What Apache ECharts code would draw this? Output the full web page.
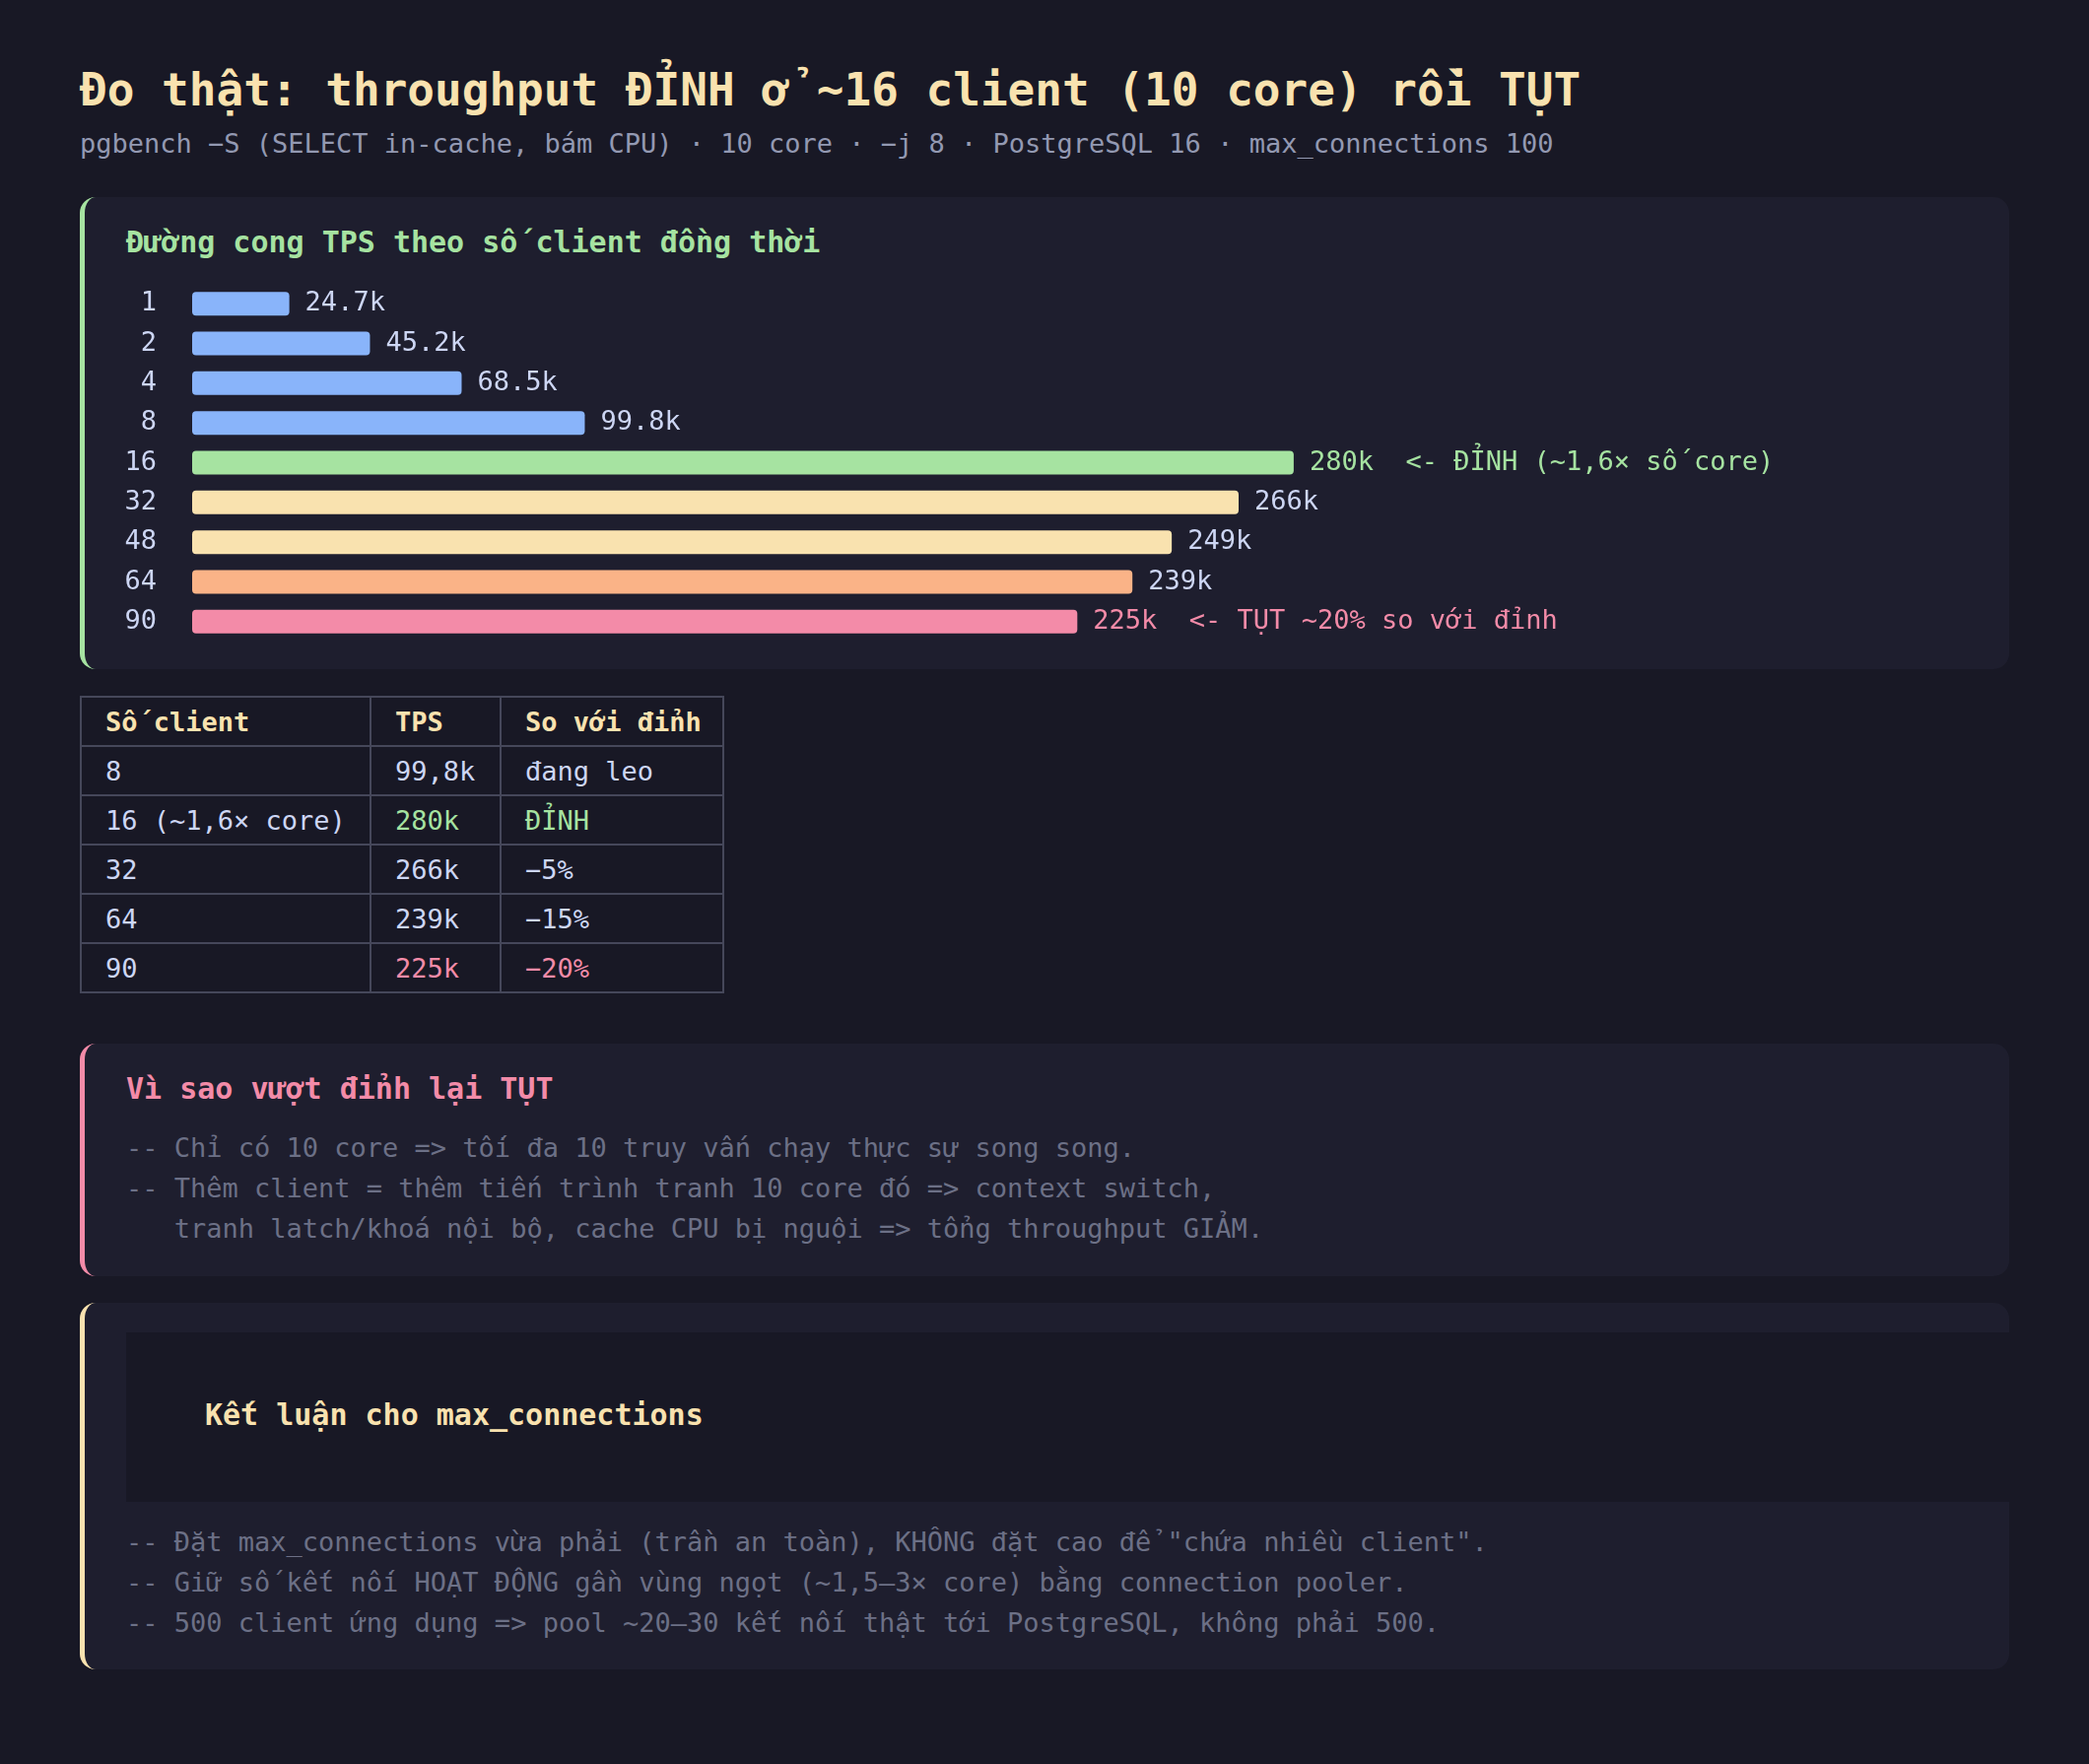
<!DOCTYPE html>
<html><head><meta charset="utf-8">
<script src="https://cdn.jsdelivr.net/npm/echarts@6/dist/echarts.min.js"></script>
<style>
body{margin:0;background:#181825;width:2120px;height:1790px;overflow:hidden;font-family:"DejaVu Sans Mono",monospace;color:#cdd6f4;position:relative}
.abs{position:absolute}
.title{left:81px;top:64px;font-size:46px;font-weight:bold;color:#f9e2af;white-space:nowrap}
.sub{left:81px;top:130px;font-size:27px;color:#9399b2;white-space:nowrap}
.panel{left:81px;width:1958px;background:#1e1e2e;border-radius:16px;box-sizing:border-box}
.h{font-size:30px;font-weight:bold;white-space:nowrap}
.ln{font-size:27px;color:#6c7086;white-space:pre;line-height:41px}
table{border-collapse:collapse;font-size:27px}
td{border:2px solid #45475a;height:50px;padding:0 0 0 24px;box-sizing:border-box}
</style></head><body>
<div class="abs title">Đo thật: throughput ĐỈNH ở ~16 client (10 core) rồi TỤT</div>
<div class="abs sub">pgbench −S (SELECT in-cache, bám CPU) · 10 core · −j 8 · PostgreSQL 16 · max_connections 100</div>
<div class="abs panel" style="top:200px;height:479px;border-left:5px solid #a6e3a1"></div>
<div class="abs h" style="left:128px;top:228px;color:#a6e3a1">Đường cong TPS theo số client đồng thời</div>
<div id="chart" class="abs" style="left:0;top:0;width:2120px;height:700px"></div>
<table class="abs" style="left:81px;top:706px;width:654px">
<tr style="color:#f9e2af;font-weight:bold"><td style="width:294px">Số client</td><td style="width:132px">TPS</td><td>So với đỉnh</td></tr>
<tr><td>8</td><td>99,8k</td><td>đang leo</td></tr>
<tr><td>16 (~1,6× core)</td><td style="color:#a6e3a1">280k</td><td style="color:#a6e3a1">ĐỈNH</td></tr>
<tr><td>32</td><td>266k</td><td>−5%</td></tr>
<tr><td>64</td><td>239k</td><td>−15%</td></tr>
<tr><td>90</td><td style="color:#f38ba8">225k</td><td style="color:#f38ba8">−20%</td></tr>
</table>
<div class="abs panel" style="top:1059px;height:236px;border-left:5px solid #f38ba8"></div>
<div class="abs h" style="left:128px;top:1087px;color:#f38ba8">Vì sao vượt đỉnh lại TỤT</div>
<div class="abs ln" style="left:128px;top:1144px">-- Chỉ có 10 core => tối đa 10 truy vấn chạy thực sự song song.
-- Thêm client = thêm tiến trình tranh 10 core đó => context switch,
   tranh latch/khoá nội bộ, cache CPU bị nguội => tổng throughput GIẢM.</div>
<div class="abs panel" style="top:1322px;height:372px;border-left:5px solid #f9e2af"></div>
<div class="abs" style="left:128px;top:1352px;width:1911px;height:172px;background:#181825"></div>
<div class="abs h" style="left:208px;top:1418px;color:#f9e2af">Kết luận cho max_connections</div>
<div class="abs ln" style="left:128px;top:1544px">-- Đặt max_connections vừa phải (trần an toàn), KHÔNG đặt cao để "chứa nhiều client".
-- Giữ số kết nối HOẠT ĐỘNG gần vùng ngọt (~1,5–3× core) bằng connection pooler.
-- 500 client ứng dụng => pool ~20–30 kết nối thật tới PostgreSQL, không phải 500.</div>
<script>
const clients=["1","2","4","8","16","32","48","64","90"];
const tps=[24.7,45.2,68.5,99.8,280,266,249,239,225];
const tpsLabels=["24.7k","45.2k","68.5k","99.8k","280k","266k","249k","239k","225k"];
const barColors=["#89b4fa","#89b4fa","#89b4fa","#89b4fa","#a6e3a1","#f9e2af","#f9e2af","#fab387","#f38ba8"];
const notes={"16":{t:"  <- ĐỈNH (~1,6× số core)",s:"g"},"90":{t:"  <- TỤT ~20% so với đỉnh",s:"p"}};
const c=echarts.init(document.getElementById('chart'));
c.setOption({animation:false,
grid:{left:195,top:288,width:1597,height:363},
xAxis:{type:'value',min:0,max:400,show:false},
yAxis:{type:'category',inverse:true,data:clients,axisLine:{show:false},axisTick:{show:false},
 axisLabel:{color:'#cdd6f4',fontSize:27,fontFamily:'DejaVu Sans Mono',margin:36}},
series:[{type:'bar',barWidth:24,
 data:tps.map((v,i)=>({value:v,itemStyle:{color:barColors[i],borderRadius:4}})),
 label:{show:true,position:'right',distance:16,fontSize:27,fontFamily:'DejaVu Sans Mono',
  formatter:p=>{const n=notes[clients[p.dataIndex]];const l=tpsLabels[p.dataIndex];
   return n?`{${n.s}|${l}${n.t}}`:`{w|${l}}`;},
  rich:{w:{color:'#cdd6f4',fontSize:27,fontFamily:'DejaVu Sans Mono'},
   g:{color:'#a6e3a1',fontSize:27,fontFamily:'DejaVu Sans Mono'},
   p:{color:'#f38ba8',fontSize:27,fontFamily:'DejaVu Sans Mono'}}}}]});
</script>
</body></html>
